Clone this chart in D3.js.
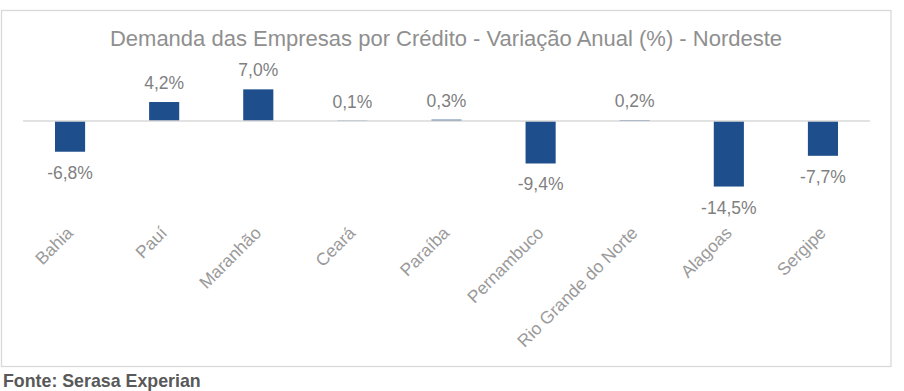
<!DOCTYPE html>
<html>
<head>
<meta charset="utf-8">
<script src="https://cdn.jsdelivr.net/npm/d3@7/dist/d3.min.js"></script>
<style>
html,body{margin:0;padding:0;background:#fff;}
svg{display:block;}
</style>
</head>
<body>
<script>
const title = "Demanda das Empresas por Crédito - Variação Anual (%) - Nordeste";
const categories = ["Bahia","Pauí","Maranhão","Ceará","Paraíba","Pernambuco","Rio Grande do Norte","Alagoas","Sergipe"];
const values = [-6.8, 4.2, 7.0, 0.1, 0.3, -9.4, 0.2, -14.5, -7.7];
const valueLabels = ["-6,8%","4,2%","7,0%","0,1%","0,3%","-9,4%","0,2%","-14,5%","-7,7%"];
const source = "Fonte: Serasa Experian";

const W = 904, H = 391;
const svg = d3.select("body").append("svg").attr("width", W).attr("height", H);
const font = "'Liberation Sans', Arial, sans-serif";

svg.append("rect").attr("x",1.5).attr("y",10.5).attr("width",889.5).attr("height",356)
  .attr("fill","#fff").attr("stroke","#d9d9d9").attr("stroke-width",1.3);

svg.append("text").attr("x",446).attr("y",46).attr("text-anchor","middle")
  .attr("font-family",font).attr("font-size",22).attr("fill","#8f8f8f").text(title);

const x = d3.scaleBand().domain(categories).range([23,870]).paddingInner(0.68).paddingOuter(0.34);
const y = d3.scaleLinear().domain([-20,10]).range([211.4,75.8]);

const data = categories.map((c,i)=>({c, v:values[i], l:valueLabels[i]}));

svg.append("g").selectAll("rect").data(data).join("rect")
  .attr("x", d=>x(d.c))
  .attr("width", x.bandwidth())
  .attr("y", d=>y(Math.max(0,d.v)))
  .attr("height", d=>Math.abs(y(d.v)-y(0)))
  .attr("fill","#1f4e8c");

svg.append("line").attr("x1",23).attr("x2",870).attr("y1",y(0)).attr("y2",y(0))
  .attr("stroke","#d9d9d9").attr("stroke-width",1.6);

svg.append("g").selectAll("text").data(data).join("text")
  .attr("x", d=>x(d.c)+x.bandwidth()/2)
  .attr("y", d=> d.v>=0 ? y(d.v)-13 : y(d.v)+27)
  .attr("text-anchor","middle")
  .attr("font-family",font).attr("font-size",17.5).attr("fill","#7f7f7f")
  .text(d=>d.l);

svg.append("g").selectAll("text").data(categories).join("text")
  .attr("transform", c=>`translate(${x(c)+x.bandwidth()/2+4},234) rotate(-45)`)
  .attr("text-anchor","end")
  .attr("font-family",font).attr("font-size",17.5).attr("fill","#9a9a9a")
  .text(c=>c);

svg.append("text").attr("x",3).attr("y",386.5)
  .attr("font-family",font).attr("font-size",17.8).attr("font-weight","bold").attr("fill","#595959")
  .text(source);
</script>
</body>
</html>
